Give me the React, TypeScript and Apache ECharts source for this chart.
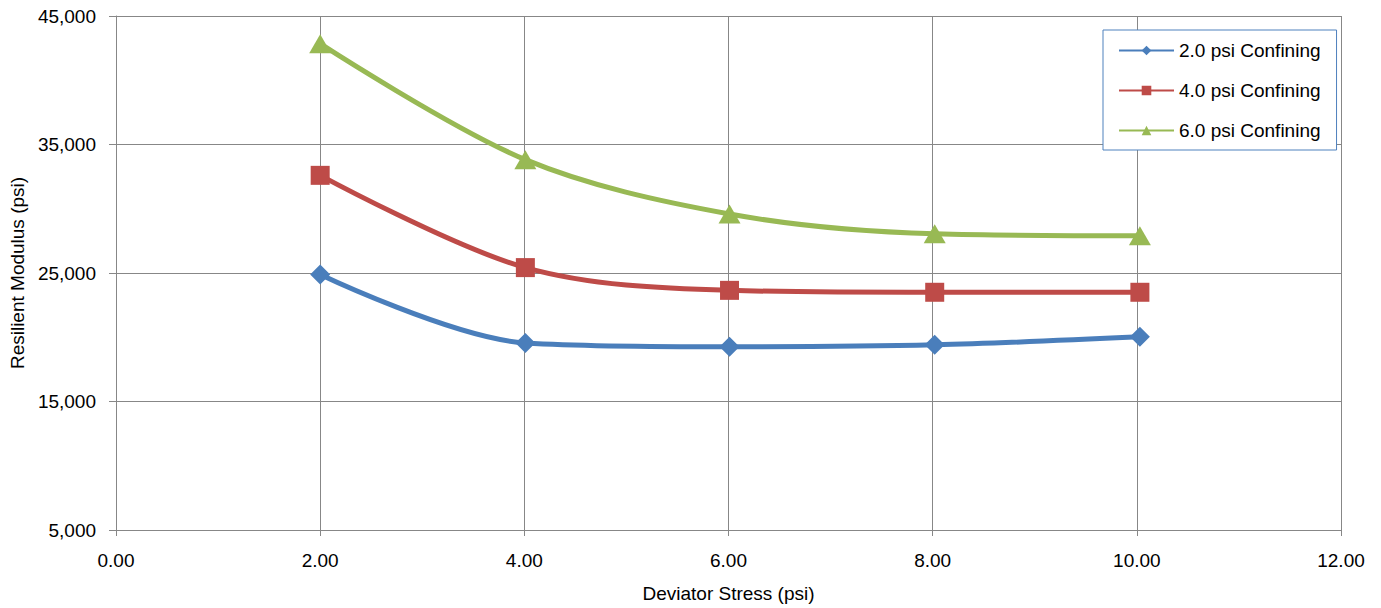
import React, { useEffect, useRef } from "react";
import * as echarts from "echarts";

const stress = [2.0, 4.01, 6.01, 8.02, 10.03];
const confining2 = [24880, 19560, 19260, 19410, 20030];
const confining4 = [32600, 25420, 23650, 23500, 23500];
const confining6 = [42850, 33820, 29590, 28050, 27900];
const seriesNames = ["2.0 psi Confining", "4.0 psi Confining", "6.0 psi Confining"];
const FONT = "Liberation Sans";
const GRID = "#878787";

const pairs = (ys: number[]) => stress.map((x, i) => [x, ys[i]]);

export default function App() {
  const ref = useRef<HTMLDivElement>(null);
  useEffect(() => {
    document.body.style.margin = "0";
    const chart = echarts.init(ref.current!, undefined, { renderer: "svg" });
    const mk = (name: string, data: number[], color: string, symbol: string, size: any) => ({
      name,
      type: "line",
      data: pairs(data),
      smooth: 0.33,
      symbol,
      symbolSize: size,
      lineStyle: { color, width: 5 },
      itemStyle: { color },
      z: 3,
    });
    chart.setOption({
      animation: false,
      backgroundColor: "#ffffff",
      textStyle: { fontFamily: FONT },
      grid: { left: 115, right: 40, top: 16, bottom: 74, containLabel: false },
      legend: {
        orient: "vertical",
        left: 1103,
        top: 30,
        padding: [11, 16, 10, 15],
        borderColor: "#4F81BD",
        borderWidth: 1,
        backgroundColor: "#ffffff",
        itemWidth: 55,
        itemHeight: 12,
        itemGap: 21,
        textStyle: { fontFamily: FONT, fontSize: 19, color: "#000" },
        data: seriesNames,
      },
      xAxis: {
        type: "value",
        min: 0,
        max: 12,
        interval: 2,
        name: "Deviator Stress (psi)",
        nameLocation: "middle",
        nameGap: 54,
        nameTextStyle: { fontFamily: FONT, fontSize: 19, color: "#000" },
        axisLine: { show: true, lineStyle: { color: GRID, width: 1 } },
        axisTick: { show: true, length: 6, lineStyle: { color: GRID } },
        axisLabel: {
          fontFamily: FONT,
          fontSize: 19,
          color: "#000",
          margin: 21,
          formatter: (v: number) => v.toFixed(2),
        },
        splitLine: { show: true, lineStyle: { color: GRID, width: 1 } },
      },
      yAxis: {
        type: "value",
        min: 5000,
        max: 45000,
        interval: 10000,
        name: "Resilient Modulus (psi)",
        nameLocation: "middle",
        nameGap: 89,
        nameTextStyle: { fontFamily: FONT, fontSize: 19, color: "#000" },
        axisLine: { show: true, lineStyle: { color: GRID, width: 1 } },
        axisTick: { show: true, length: 7, lineStyle: { color: GRID } },
        axisLabel: {
          fontFamily: FONT,
          fontSize: 19,
          color: "#000",
          margin: 20,
          formatter: (v: number) => v.toLocaleString("en-US"),
        },
        splitLine: { show: true, lineStyle: { color: GRID, width: 1 } },
      },
      series: [
        mk(seriesNames[0], confining2, "#4A7EBB", "diamond", 20),
        mk(seriesNames[1], confining4, "#BE4B48", "rect", 19),
        mk(seriesNames[2], confining6, "#98B954", "triangle", [22, 19]),
      ],
    });
    return () => chart.dispose();
  }, []);
  return <div ref={ref} style={{ width: 1381, height: 608 }} />;
}
